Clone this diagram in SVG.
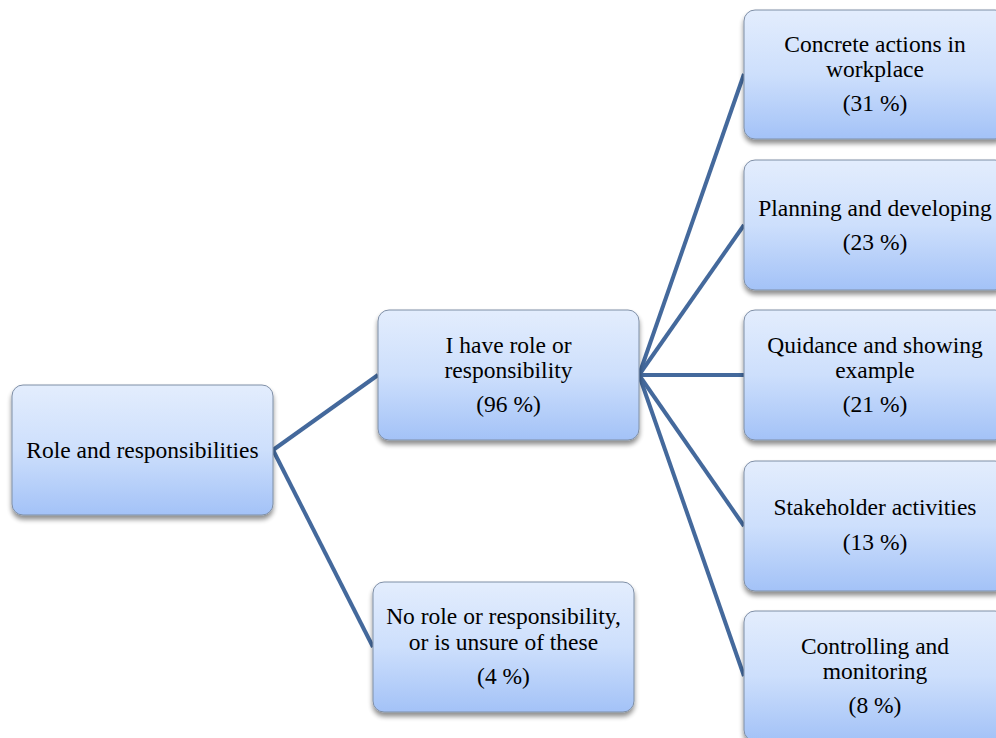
<svg xmlns="http://www.w3.org/2000/svg" width="996" height="738" viewBox="0 0 996 738">
<defs>
<linearGradient id="g" x1="0" y1="0" x2="0" y2="1">
<stop offset="0" stop-color="#e3edfd"/>
<stop offset="0.5" stop-color="#cddffc"/>
<stop offset="1" stop-color="#a3c2f7"/>
</linearGradient>
<filter id="sh" x="-10%" y="-10%" width="120%" height="130%">
<feGaussianBlur in="SourceAlpha" stdDeviation="2.5"/>
<feOffset dx="0" dy="4" result="b"/>
<feComponentTransfer><feFuncA type="linear" slope="0.45"/></feComponentTransfer>
<feMerge><feMergeNode/><feMergeNode in="SourceGraphic"/></feMerge>
</filter>
</defs>
<style>
.box{fill:url(#g);stroke:#7f8fa6;stroke-width:1;filter:url(#sh)}
.t{font-family:"Liberation Serif","Times New Roman",serif;font-size:23.5px;fill:#000;text-anchor:middle}
.c{stroke:#44699c;stroke-width:4;fill:none}
</style>
<g id="connectors">
<line class="c" x1="273" y1="450" x2="378" y2="375"/>
<line class="c" x1="273" y1="450" x2="373" y2="647"/>
<line class="c" x1="639" y1="375" x2="744" y2="74"/>
<line class="c" x1="639" y1="375" x2="744" y2="225"/>
<line class="c" x1="639" y1="375" x2="744" y2="375"/>
<line class="c" x1="639" y1="375" x2="744" y2="526"/>
<line class="c" x1="639" y1="375" x2="744" y2="676"/>
</g>
<g id="root">
<rect class="box" x="12" y="385" width="261" height="130" rx="11"/>
<text class="t" x="142.5" y="458">Role and responsibilities</text>
</g>
<g id="have">
<rect class="box" x="378" y="310" width="261" height="130" rx="11"/>
<text class="t" x="508.5" y="353">I have role or</text>
<text class="t" x="508.5" y="378">responsibility</text>
<text class="t" x="508.5" y="412">(96 %)</text>
</g>
<g id="norole">
<rect class="box" x="373" y="582" width="261" height="130" rx="11"/>
<text class="t" x="503.5" y="624">No role or responsibility,</text>
<text class="t" x="503.5" y="650">or is unsure of these</text>
<text class="t" x="503.5" y="684">(4 %)</text>
</g>
<g id="concrete">
<rect class="box" x="744" y="10" width="262" height="129" rx="11"/>
<text class="t" x="875" y="52">Concrete actions in</text>
<text class="t" x="875" y="77">workplace</text>
<text class="t" x="875" y="111">(31 %)</text>
</g>
<g id="planning">
<rect class="box" x="744" y="160" width="262" height="130" rx="11"/>
<text class="t" x="875" y="216">Planning and developing</text>
<text class="t" x="875" y="250">(23 %)</text>
</g>
<g id="guidance">
<rect class="box" x="744" y="310" width="262" height="130" rx="11"/>
<text class="t" x="875" y="353">Quidance and showing</text>
<text class="t" x="875" y="378">example</text>
<text class="t" x="875" y="412">(21 %)</text>
</g>
<g id="stakeholder">
<rect class="box" x="744" y="461" width="262" height="130" rx="11"/>
<text class="t" x="875" y="515">Stakeholder activities</text>
<text class="t" x="875" y="550">(13 %)</text>
</g>
<g id="controlling">
<rect class="box" x="744" y="611" width="262" height="130" rx="11"/>
<text class="t" x="875" y="654">Controlling and</text>
<text class="t" x="875" y="679">monitoring</text>
<text class="t" x="875" y="713">(8 %)</text>
</g>
</svg>
